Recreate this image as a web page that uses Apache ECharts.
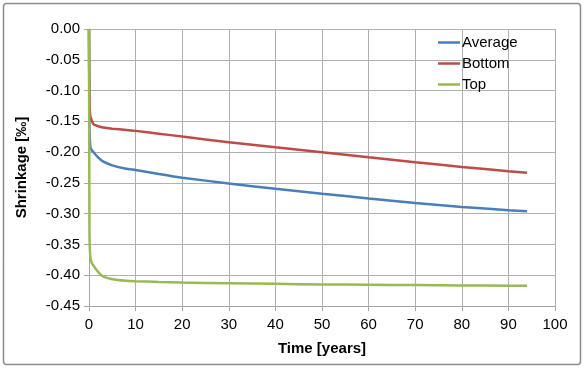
<!DOCTYPE html>
<html>
<head>
<meta charset="utf-8">
<script src="https://cdn.jsdelivr.net/npm/echarts@6/dist/echarts.min.js"></script>
<style>
html,body{margin:0;padding:0;background:#fff;}
#chart{width:584px;height:368px;}
</style>
</head>
<body>
<div id="chart"></div>
<script>
const time    = [0, 0.1, 0.3, 0.6, 1, 2, 3, 5, 8, 10, 15, 20, 30, 40, 50, 60, 70, 80, 90, 94];
const average = [0, -0.16, -0.192, -0.197, -0.2005, -0.209, -0.215, -0.2215, -0.227, -0.229, -0.2355, -0.2415, -0.251, -0.2595, -0.2675, -0.2753, -0.2825, -0.289, -0.2944, -0.296];
const bottom  = [0, -0.12, -0.143, -0.149, -0.155, -0.158, -0.160, -0.162, -0.164, -0.1655, -0.170, -0.1748, -0.1838, -0.1922, -0.2003, -0.2085, -0.2165, -0.224, -0.231, -0.2337];
const top_    = [0, -0.33, -0.372, -0.380, -0.385, -0.395, -0.402, -0.4065, -0.409, -0.4097, -0.411, -0.412, -0.413, -0.414, -0.415, -0.4155, -0.416, -0.4165, -0.417, -0.417];
const seriesNames = ['Average', 'Bottom', 'Top'];
const colors = ['#4A7EBB', '#BE4B48', '#98B954'];

const pairs = arr => time.map((t, i) => [t, arr[i]]);
const font = 'Liberation Sans, Arial, sans-serif';
const chart = echarts.init(document.getElementById('chart'), null, {renderer: 'canvas'});
chart.setOption({
  animation: false,
  backgroundColor: '#fff',
  graphic: [{
    type: 'rect', shape: {x: 3.5, y: 3.5, width: 577, height: 361, r: 3},
    style: {fill: 'none', stroke: '#8c8c8c', lineWidth: 1.5}, silent: true, z: -1
  }],
  grid: {left: 89, right: 29, top: 29, bottom: 62},
  legend: {
    orient: 'vertical', left: 438, top: 34, padding: 0,
    itemWidth: 22, itemHeight: 2.5, itemGap: 4, icon: 'rect',
    data: seriesNames,
    textStyle: {fontFamily: font, fontSize: 15, color: '#000', padding: [0, 0, 0, -3], lineHeight: 17}
  },
  xAxis: {
    type: 'value', min: 0, max: 100, interval: 10,
    name: 'Time [years]', nameLocation: 'middle', nameGap: 35,
    nameTextStyle: {fontFamily: font, fontSize: 15, fontWeight: 'bold', color: '#000'},
    axisLine: {show: true, onZero: false, lineStyle: {color: '#a6a6a6', width: 1}},
    axisTick: {show: true, length: 5, lineStyle: {color: '#a6a6a6'}},
    axisLabel: {fontFamily: font, fontSize: 15, color: '#000', margin: 11},
    splitLine: {show: true, lineStyle: {color: '#b0b0b0', width: 1}}
  },
  yAxis: {
    type: 'value', min: -0.45, max: 0, interval: 0.05,
    name: 'Shrinkage [‰]', nameLocation: 'middle', nameGap: 60,
    nameTextStyle: {fontFamily: font, fontSize: 15, fontWeight: 'bold', color: '#000'},
    axisLine: {show: true, onZero: false, lineStyle: {color: '#a6a6a6', width: 1}},
    axisTick: {show: true, length: 5, lineStyle: {color: '#a6a6a6'}},
    axisLabel: {fontFamily: font, fontSize: 15, color: '#000', margin: 9,
      formatter: v => (Math.abs(v) < 1e-9 ? 0 : v).toFixed(2)},
    splitLine: {show: true, lineStyle: {color: '#b0b0b0', width: 1}}
  },
  series: [average, bottom, top_].map((arr, i) => ({
    name: seriesNames[i], type: 'line', data: pairs(arr),
    symbol: 'none', smooth: 0.15, color: colors[i],
    lineStyle: {width: 2.5, color: colors[i]}
  }))
});
</script>
</body>
</html>
